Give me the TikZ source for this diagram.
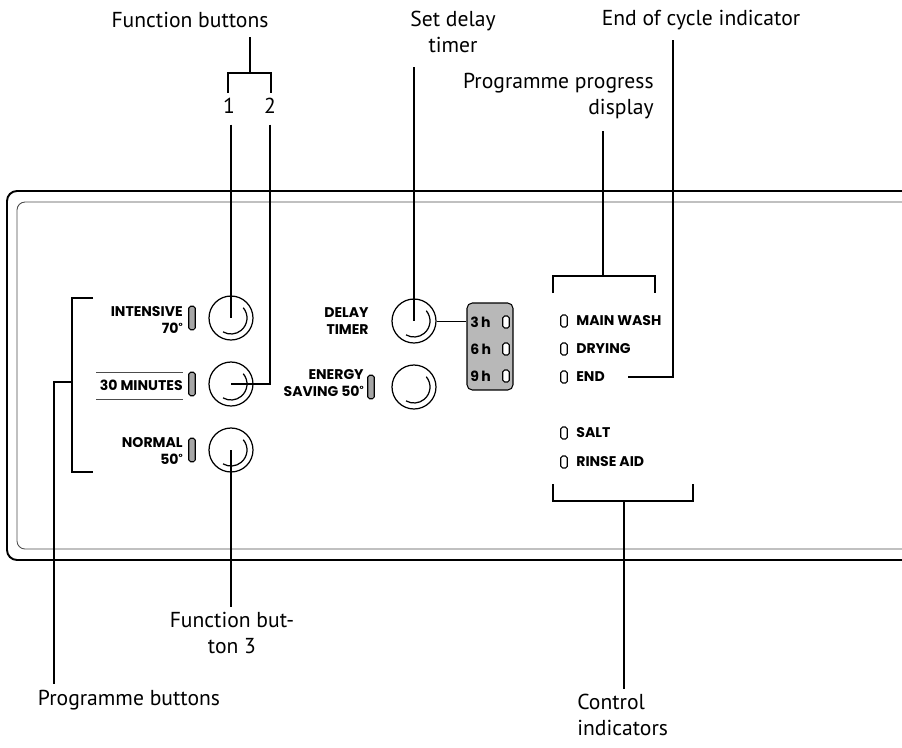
\documentclass[tikz,border=0pt]{standalone}
\usepackage{fontspec}
\setmainfont{PT Sans}
\newfontfamily\panelfont{Poppins}
\definecolor{ledgray}{gray}{0.65}
\definecolor{boxgray}{gray}{0.72}
\newcommand\degmark{\raisebox{2.2pt}{\fontsize{5}{5}\selectfont °}}
\begin{document}
\begin{tikzpicture}[x=0.02cm, y=-0.02cm,
  callout/.style={line width=1.1pt},
  label/.style={font=\fontsize{12.3}{14.5}\selectfont, inner sep=0pt},
  keytext/.style={font=\panelfont\bfseries\fontsize{8}{9.6}\selectfont, inner sep=0pt},
  knob/.style={circle, draw, line width=0.7pt, minimum size=0.88cm, inner sep=0pt},
  led/.style={draw, fill=ledgray, rounded corners=1pt, line width=0.6pt,
    minimum width=0.13cm, minimum height=0.47cm, inner sep=0pt},
  smallled/.style={draw, fill=white, rounded corners=1pt, line width=0.6pt,
    minimum width=0.13cm, minimum height=0.24cm, inner sep=0pt}]

  \useasboundingbox (0,0) rectangle (902,747);

  % Panel frame, cut off at the right
  \draw[line width=1.1pt, rounded corners=0.2cm] (940,191) -| (7,560) -- (940,560);
  \draw[line width=0.5pt, black!70, rounded corners=0.16cm] (940,202) -| (17,549) -- (940,549);

  % Programme buttons with their LEDs
  \foreach \y/\n in {318/1, 384/2, 450/3} {
    \node[knob] (b\n) at (231,\y) {};
    \draw[line width=0.7pt] ([shift={(40:0.32cm)}]b\n.center) arc[start angle=40, end angle=-120, radius=0.32cm];
    \node[led] (l\n) at (192,\y) {};
  }
  \node[keytext, anchor=east, align=right] (intensive) at (183,320) {INTENSIVE\\70\degmark};
  \node[keytext, anchor=east] (minutes) at (183,385) {30 MINUTES};
  \draw[line width=0.5pt, black!70] (96,372) -- (183,372) (96,399) -- (183,399);
  \node[keytext, anchor=east, align=right] (normal) at (183,451) {NORMAL\\50\degmark};

  % Delay timer and energy saving
  \foreach \y/\n in {321/1, 387/2} {
    \node[knob] (d\n) at (414,\y) {};
    \draw[line width=0.7pt] ([shift={(40:0.32cm)}]d\n.center) arc[start angle=40, end angle=-120, radius=0.32cm];
  }
  \node[keytext, anchor=east, align=right] (delay) at (369,321) {DELAY\\TIMER};
  \node[led] (l4) at (371,387) {};
  \node[keytext, anchor=east, align=right] (energy) at (364,383) {ENERGY\\SAVING 50\degmark};

  % Timer display
  \node[draw, fill=boxgray, rounded corners=3pt, line width=0.6pt,
    minimum width=0.92cm, minimum height=1.74cm, inner sep=0pt] (tbox) at (490,346.5) {};
  \foreach \y/\h in {322/3, 349/6, 376/9} {
    \node[keytext, anchor=west] (t\h) at (470,\y) {\h\,h};
    \node[smallled] (tl\h) at (506,\y) {};
  }
  \draw[line width=0.5pt] (d1.east) -- (tbox.west |- d1.east);

  % Indicator LEDs
  \foreach \y/\t [count=\i] in {321/MAIN WASH, 349/DRYING, 377/END, 433/SALT, 462/RINSE AID} {
    \node[smallled] (s\i) at (564,\y) {};
    \node[keytext, anchor=west] (st\i) at (576,\y) {\t};
  }

  % Callouts
  \node[label] (fbtxt) at (190,20) {Function buttons};
  \node[label] (one) at (229,106) {1};
  \node[label] (two) at (270,106) {2};
  \coordinate (fbtop) at (250,37);
  \coordinate (fbfork) at (250,73);
  \draw[callout] (fbtop) -- (fbfork);
  \draw[callout] (228,93) |- (271,73) -- (271,93);
  \draw[callout, shorten <=6pt] (one.south -| b1) -- (b1.center);
  \draw[callout, shorten <=6pt] (two.south) |- (b2.center);

  \node[label, align=center] (fb3txt) at (232,633) {Function but-\\ton 3};
  \draw[callout, shorten >=3pt] (b3.center) -- (fb3txt.north -| b3);

  \node[label] (pbtxt) at (129,700) {Programme buttons};
  \coordinate (pbfork) at (72,382);
  \draw[callout] (93,298) -| (72,472) -- (93,472);
  \draw[callout, shorten >=3pt] (pbfork) -| (pbtxt.north -| 54,0);

  \node[label, align=center] (sdtxt) at (453,32) {Set delay\\timer};
  \coordinate (sdtop) at (414,67);
  \draw[callout] (sdtop) -- (d1.center);

  \node[label] (eoctxt) at (701,20) {End of cycle indicator};
  \coordinate (eoctop) at (673,40);
  \draw[callout] (eoctop) |- ([xshift=13pt]st3.east);

  \node[label, anchor=east, align=right] (ppdtxt) at (654,96) {Programme progress\\display};
  \coordinate (ppdtop) at (603,131);
  \coordinate (ppdfork) at (603,276);
  \draw[callout] (ppdtop) -- (ppdfork);
  \draw[callout] (553,293) |- (655,276) -- (655,293);

  \node[label, anchor=west, align=left] (citxt) at (577,715) {Control\\indicators};
  \coordinate (cifork) at (624,501);
  \draw[callout] (553,484) |- (693,501) -- (693,484);
  \draw[callout, shorten >=3pt] (cifork) -- (citxt.north -| cifork);
\end{tikzpicture}
\end{document}
